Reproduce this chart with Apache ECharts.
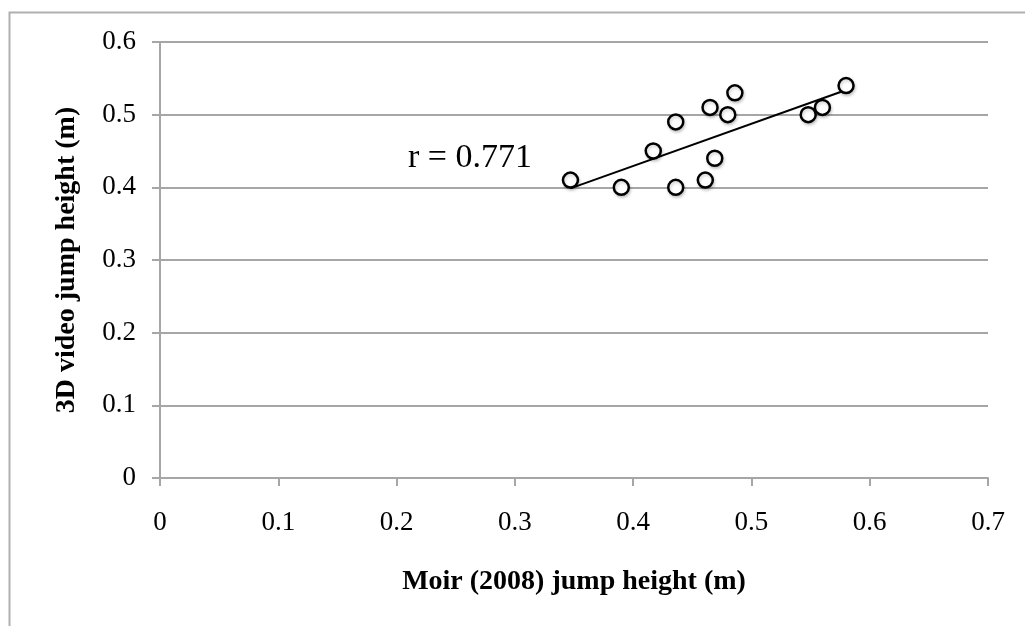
<!DOCTYPE html>
<html>
<head>
<meta charset="utf-8">
<script src="https://cdn.jsdelivr.net/npm/echarts@6/dist/echarts.min.js"></script>
<style>
html,body{margin:0;padding:0;background:#fff;}
#chart{width:1025px;height:626px;}
</style>
</head>
<body>
<div id="chart"></div>
<script>
var moirHeight = [0.347, 0.390, 0.436, 0.461, 0.469, 0.417, 0.436, 0.465, 0.480, 0.486, 0.548, 0.560, 0.580];
var videoHeight = [0.41, 0.40, 0.40, 0.41, 0.44, 0.45, 0.49, 0.51, 0.50, 0.53, 0.50, 0.51, 0.54];
var xTicks = [0, 0.1, 0.2, 0.3, 0.4, 0.5, 0.6, 0.7];
var yTicks = [0, 0.1, 0.2, 0.3, 0.4, 0.5, 0.6];
var rLabel = 'r = 0.771';

var points = moirHeight.map(function (x, i) { return [x, videoHeight[i]]; });
// least-squares trend line over the data range
var n = points.length, mx = 0, my = 0;
points.forEach(function (p) { mx += p[0]; my += p[1]; });
mx /= n; my /= n;
var sxy = 0, sxx = 0;
points.forEach(function (p) { sxy += (p[0] - mx) * (p[1] - my); sxx += (p[0] - mx) * (p[0] - mx); });
var slope = sxy / sxx, icpt = my - slope * mx;
var xmin = Math.min.apply(null, moirHeight), xmax = Math.max.apply(null, moirHeight);
var trend = [[xmin, icpt + slope * xmin], [xmax, icpt + slope * xmax]];

function tickFmt(list) {
  return function (v) {
    var t = list.find(function (k) { return Math.abs(k - v) < 1e-9; });
    return t === undefined ? '' : String(t);
  };
}

var font = '"Liberation Serif", "Times New Roman", serif';
var chart = echarts.init(document.getElementById('chart'));
chart.setOption({
  animation: false,
  backgroundColor: '#fff',
  grid: { left: 160, right: 37, top: 42, bottom: 148 },
  xAxis: {
    type: 'value', min: 0, max: 0.7, interval: 0.1,
    name: 'Moir (2008) jump height (m)', nameLocation: 'middle', nameGap: 90,
    nameTextStyle: { fontFamily: font, fontWeight: 'bold', fontSize: 28, color: '#000' },
    axisLine: { show: true, lineStyle: { color: '#a6a6a6', width: 2 } },
    axisTick: { show: true, length: 8, lineStyle: { color: '#a6a6a6', width: 2 } },
    axisLabel: { fontFamily: font, fontSize: 27, color: '#000', margin: 31, formatter: tickFmt(xTicks) },
    splitLine: { show: false }
  },
  yAxis: {
    type: 'value', min: 0, max: 0.6, interval: 0.1,
    name: '3D video jump height (m)', nameLocation: 'middle', nameGap: 79,
    nameTextStyle: { fontFamily: font, fontWeight: 'bold', fontSize: 28, color: '#000' },
    axisLine: { show: true, lineStyle: { color: '#a6a6a6', width: 2 } },
    axisTick: { show: true, length: 8, lineStyle: { color: '#a6a6a6', width: 2 } },
    axisLabel: { fontFamily: font, fontSize: 27, color: '#000', margin: 24, formatter: tickFmt(yTicks) },
    splitLine: { show: true, lineStyle: { color: '#a6a6a6', width: 2 } }
  },
  graphic: [
    { type: 'rect', left: 7, top: 10, shape: { width: 1030, height: 630 },
      style: { fill: 'none', stroke: '#b0b0b0', lineWidth: 2 }, z: -1 },
    { type: 'text', left: 408, top: 141,
      style: { text: rLabel, font: '34px ' + font, fill: '#000' } }
  ],
  series: [
    { type: 'line', data: trend, symbol: 'none', lineStyle: { color: '#000', width: 2 }, z: 2 },
    { type: 'scatter', data: points, symbol: 'circle', symbolSize: 15,
      itemStyle: { color: '#ffffff', opacity: 1, borderColor: '#000', borderWidth: 2.5,
        shadowColor: 'rgba(0,0,0,0.18)', shadowBlur: 3, shadowOffsetX: 1, shadowOffsetY: 2 }, z: 3 }
  ]
});
</script>
</body>
</html>
